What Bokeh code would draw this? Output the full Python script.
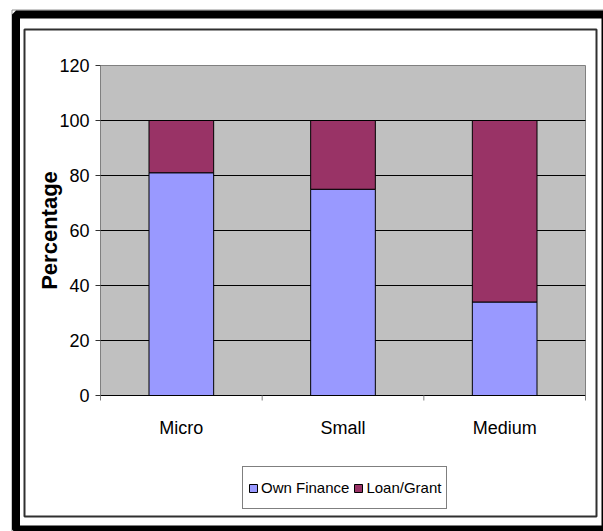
import numpy as np
from bokeh.plotting import figure
from bokeh.models import (Range1d, ColumnDataSource, Legend, LegendItem,
                          BoxAnnotation)
from bokeh.core.properties import value
from bokeh.embed import file_html
from bokeh.resources import INLINE

# Source of finance by enterprise size (percent)
categories = ["Micro", "Small", "Medium"]
own_finance = [81, 75, 34]
loan_grant = [19, 25, 66]
y_ticks = [0, 20, 40, 60, 80, 100, 120]
y_label = "Percentage"
series_names = ["Own Finance", "Loan/Grant"]
series_colors = ["#9999FF", "#993366"]

FONT = "Liberation Sans"

# page size and the pixel edges of the plotting area
W, H = 603, 531
PL, PR, PT, PB = 100, 585, 65, 395
n = len(categories)
y_max = y_ticks[-1]
kx = (PR - PL) / n          # pixels per category
ky = (PB - PT) / y_max      # pixels per percent
TICK = 5                    # tick length, px

p = figure(width=W, height=H,
           x_range=Range1d(-PL / kx, n + (W - PR) / kx),
           y_range=Range1d(-(H - PB) / ky, y_max + PT / ky),
           x_axis_location=None, y_axis_location=None,
           output_backend="svg", toolbar_location=None, min_border=0,
           background_fill_color="white", border_fill_color="white",
           outline_line_color=None)
p.grid.visible = False

# grey plotting area
p.quad(left=[0], right=[n], bottom=[y_ticks[0]], top=[y_max],
       fill_color="#C0C0C0", line_color="#808080", line_width=1)

# horizontal grid lines
inner = y_ticks[1:-1]
p.segment(x0=[0] * len(inner), x1=[n] * len(inner), y0=inner, y1=inner,
          line_color="black", line_width=1)

# stacked bars
x_pos = np.arange(n) + 0.5
src = ColumnDataSource(dict(x=x_pos, own=own_finance, loan=loan_grant))
bars = p.vbar_stack(["own", "loan"], x="x", width=0.4, source=src,
                    fill_color=series_colors, line_color="black", line_width=1)

# y axis: ticks and labels
p.segment(x0=[-TICK / kx] * len(y_ticks), x1=[0] * len(y_ticks),
          y0=y_ticks, y1=y_ticks, line_color="#333333", line_width=1)
p.text(x=[0] * len(y_ticks), y=y_ticks, text=[str(t) for t in y_ticks],
       x_offset=-11, text_align="right", text_baseline="middle",
       text_font=value(FONT), text_font_size="18px", text_color="black")
p.text(x=[0], y=[y_max / 2], text=[y_label], angle=np.pi / 2, x_offset=-51,
       text_align="center", text_baseline="middle", text_font=value(FONT),
       text_font_style="bold", text_font_size="22px", text_color="black")

# x axis: line, tick marks between categories, labels under bars
p.segment(x0=[0], x1=[n], y0=[0], y1=[0], line_color="black", line_width=1)
edges = list(range(n + 1))
p.segment(x0=edges, x1=edges, y0=[0] * len(edges), y1=[-TICK / ky] * len(edges),
          line_color="#808080", line_width=1)
p.text(x=x_pos, y=[0] * n, text=categories, y_offset=32,
       text_align="center", text_baseline="middle", text_font=value(FONT),
       text_font_size="18px", text_color="black")

legend = Legend(items=[LegendItem(label=series_names[0], renderers=[bars[0]]),
                       LegendItem(label=series_names[1], renderers=[bars[1]])],
                orientation="horizontal", location=(242, 22),
                border_line_color="black", border_line_width=1,
                background_fill_color="white", background_fill_alpha=1,
                padding=5, margin=0, spacing=4, label_standoff=3,
                glyph_width=10, glyph_height=10, label_height=31,
                label_text_font=FONT, label_text_font_size="15px",
                label_text_color="black")
p.add_layout(legend, "center")

# double page frame
frames = [
    dict(left=11.5, top=9.5, right=640, bottom=640, line_color="#909090", line_width=1),
    dict(left=15.5, top=14, right=605, bottom=529, line_color="black", line_width=8),
    dict(left=24, top=29, right=596, bottom=516, line_color="#303030", line_width=2),
]
for f in frames:
    p.add_layout(BoxAnnotation(left_units="canvas", right_units="canvas",
                               top_units="canvas", bottom_units="canvas",
                               fill_color=None, fill_alpha=0, line_alpha=1, **f))

open("out.html", "w").write(file_html(p, INLINE))
